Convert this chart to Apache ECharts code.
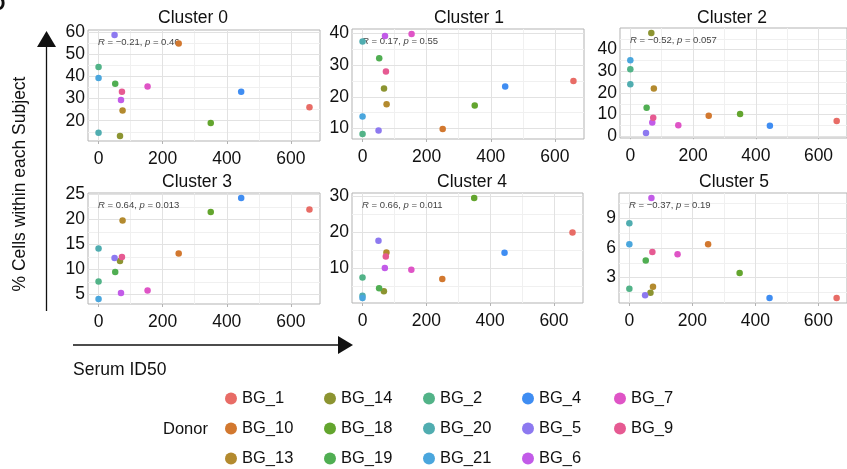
<!DOCTYPE html>
<html><head><meta charset="utf-8">
<script src="https://cdn.jsdelivr.net/npm/echarts@6/dist/echarts.min.js"></script>
<style>html,body{margin:0;padding:0;background:#fff}#c{width:847px;height:469px}</style>
</head><body><div id="c"></div>
<script>
// ---------------- data ----------------
const donors = ['BG_1','BG_10','BG_13','BG_14','BG_18','BG_19','BG_2','BG_20','BG_21','BG_4','BG_5','BG_6','BG_7','BG_9'];
const donorColors = ['#E86C66','#D2782F','#B38A2E','#8C9431','#63A52E','#50AE52','#52B388','#50ADB0','#4AA6DD','#3F8DF2','#8D79F0','#C25BE8','#DF54C6','#E65A92'];
const serumID50 = [658, 250, 75, 67, 350, 52, 0, 0, 0, 445, 50, 70, 153, 73];
const clusterNames = ['Cluster 0','Cluster 1','Cluster 2','Cluster 3','Cluster 4','Cluster 5'];
const cluster0 = [26.1, 54.9, 24.6, 13.1, 19.0, 36.7, 44.3, 14.6, 39.3, 33.1, 58.7, 29.4, 35.5, 33.1];
const cluster1 = [25.0, 9.9, 17.7, 22.6, 17.3, 32.2, 8.3, 37.4, 13.8, 23.3, 9.4, 39.2, 39.8, 28.0];
const cluster2 = [7.0, 9.5, 22.1, 47.7, 10.3, 13.2, 30.9, 24.0, 35.1, 4.9, 1.5, 6.4, 5.1, 8.6];
const cluster3 = [22.0, 13.2, 19.8, 11.7, 21.5, 9.5, 7.6, 14.2, 4.1, 24.3, 12.3, 5.3, 5.8, 12.5];
const cluster4 = [20.0, 7.0, 14.4, 3.6, 29.6, 4.4, 7.4, 2.3, 1.7, 14.3, 17.7, 10.1, 9.6, 13.3];
const cluster5 = [0.93, 6.37, 2.07, 1.47, 3.47, 4.73, 1.87, 8.5, 6.37, 0.93, 1.2, 11.07, 5.37, 5.6];
const clusterValues = [cluster0, cluster1, cluster2, cluster3, cluster4, cluster5];
const corR = ['\u22120.21', '0.17', '\u22120.52', '0.64', '0.66', '\u22120.37'];
const corP = ['0.46', '0.55', '0.057', '0.013', '0.011', '0.19'];
const xTicks = [0, 200, 400, 600];
const yTicks = [[20,30,40,50,60],[10,20,30,40],[0,10,20,30,40],[5,10,15,20,25],[10,20,30],[3,6,9]];
const yLabel = '% Cells within each Subject';
const xLabel = 'Serum ID50';
const legendTitle = 'Donor';

// ---------------- layout ----------------
const FONT = 'Liberation Sans, Arial, Helvetica, sans-serif';
const grids = [
  {left:88, top:30, width:232, height:111},
  {left:352, top:29, width:232, height:110},
  {left:620, top:28, width:232, height:110},
  {left:88, top:193, width:232, height:111},
  {left:352, top:193, width:231, height:110},
  {left:619, top:193, width:232, height:110}
];
const titlePos = [[193,18],[469,18],[732,18],[197,182],[472,182],[734,182]];
const legendLeft = [225, 324, 423, 522, 614];

function expand(vals){
  const mn = Math.min(...vals), mx = Math.max(...vals), d = (mx - mn) * 0.05;
  return [mn - d, mx + d];
}
function minorOf(ticks, range){
  const step = ticks[1] - ticks[0];
  const out = [];
  const k0 = Math.floor(range[0] / step) - 1, k1 = Math.ceil(range[1] / step) + 1;
  for (let k = k0; k <= k1; k++) { const v = (k + 0.5) * step; if (v > range[0] && v < range[1]) out.push(+v.toFixed(4)); }
  return out;
}
const xRange = expand(serumID50);

const option = {
  animation: false,
  backgroundColor: '#fff',
  textStyle: {fontFamily: FONT},
  grid: [], xAxis: [], yAxis: [], series: [], legend: [], graphic: []
};

clusterValues.forEach((vals, ci) => {
  const g = grids[ci];
  const yRange = expand(vals);
  option.grid.push({left:g.left, top:g.top, width:g.width, height:g.height, show:true,
    borderColor:'#B3B3B3', borderWidth:1, backgroundColor:'transparent', containLabel:false});
  option.xAxis.push({type:'value', gridIndex:ci, min:xRange[0], max:xRange[1],
    axisLine:{show:false}, splitLine:{show:false},
    axisTick:{show:true, length:3, lineStyle:{color:'#B3B3B3'}, customValues:xTicks},
    axisLabel:{show:true, margin:9, fontSize:17.5, color:'#111', fontFamily:FONT, customValues:xTicks}});
  option.yAxis.push({type:'value', gridIndex:ci, min:yRange[0], max:yRange[1],
    axisLine:{show:false}, splitLine:{show:false},
    axisTick:{show:true, length:3, lineStyle:{color:'#B3B3B3'}, customValues:yTicks[ci]},
    axisLabel:{show:true, margin:3, fontSize:17.5, color:'#111', fontFamily:FONT, customValues:yTicks[ci]}});
  // grid lines (minor then major) following the axes
  const xMinor = minorOf(xTicks, xRange), yMinor = minorOf(yTicks[ci], yRange);
  option.series.push({type:'scatter', xAxisIndex:ci, yAxisIndex:ci, data:[], z:1, silent:true,
    markLine:{silent:true, z:1, symbol:['none','none'], animation:false, label:{show:false},
      lineStyle:{color:'#F0F0F0', width:1, type:'solid'},
      data: xMinor.map(v => ({xAxis:v})).concat(yMinor.map(v => ({yAxis:v})))}});
  option.series.push({type:'scatter', xAxisIndex:ci, yAxisIndex:ci, data:[], z:1, silent:true,
    markLine:{silent:true, z:1, symbol:['none','none'], animation:false, label:{show:false},
      lineStyle:{color:'#E2E2E2', width:1, type:'solid'},
      data: xTicks.map(v => ({xAxis:v})).concat(yTicks[ci].map(v => ({yAxis:v})))}});
  donors.forEach((d, di) => {
    option.series.push({type:'scatter', name:d, xAxisIndex:ci, yAxisIndex:ci, z:6,
      symbol:'circle', symbolSize:6.5, itemStyle:{color:donorColors[di], opacity:1},
      data:[[serumID50[di], vals[di]]]});
  });
  // panel title
  option.graphic.push({type:'text', x:titlePos[ci][0], y:titlePos[ci][1], silent:true,
    style:{text:clusterNames[ci], fill:'#111', font:'17.5px ' + FONT, align:'center', verticalAlign:'middle'}});
  // correlation label
  option.graphic.push({type:'text', x:g.left + 10, y:g.top + 12.5, silent:true, z:4,
    style:{text:'{i|R} = ' + corR[ci] + ', {i|p} = ' + corP[ci], fill:'#444', font:'9.5px ' + FONT,
      align:'left', verticalAlign:'middle',
      rich:{i:{fontStyle:'italic', fontSize:9.5, fill:'#444', fontFamily:FONT}}}});
});

// legend columns (5 columns, 3 rows, column-major)
for (let c = 0; c < 5; c++) {
  option.legend.push({orient:'vertical', left:legendLeft[c], top:390, height:110, itemGap:13,
    itemWidth:12, itemHeight:12, icon:'circle', selectedMode:false, padding:0,
    data: donors.slice(c*3, c*3+3),
    textStyle:{fontSize:16.5, color:'#111', fontFamily:FONT, lineHeight:16}});
}

// axis arrows and labels
option.graphic.push(
  {type:'line', silent:true, shape:{x1:46.5, y1:311, x2:46.5, y2:45}, style:{stroke:'#111', lineWidth:1.3}},
  {type:'polygon', silent:true, shape:{points:[[46.5,31],[37,47],[56,47]]}, style:{fill:'#111'}},
  {type:'text', silent:true, x:20, y:184, rotation:Math.PI/2,
    style:{text:yLabel, fill:'#111', font:'17.5px ' + FONT, align:'center', verticalAlign:'middle'}},
  {type:'line', silent:true, shape:{x1:73, y1:345, x2:340, y2:345}, style:{stroke:'#111', lineWidth:1.3}},
  {type:'polygon', silent:true, shape:{points:[[353,345],[338,336],[338,354]]}, style:{fill:'#111'}},
  {type:'text', silent:true, x:73, y:370,
    style:{text:xLabel, fill:'#111', font:'17.5px ' + FONT, align:'left', verticalAlign:'middle'}},
  {type:'text', silent:true, x:163, y:429,
    style:{text:legendTitle, fill:'#111', font:'16.5px ' + FONT, align:'left', verticalAlign:'middle'}},
  {type:'text', silent:true, x:-9, y:-6,
    style:{text:'D', fill:'#111', font:'bold 20px ' + FONT, align:'left', verticalAlign:'top'}}
);

const chart = echarts.init(document.getElementById('c'), null, {renderer:'canvas'});
chart.setOption(option);
</script></body></html>
